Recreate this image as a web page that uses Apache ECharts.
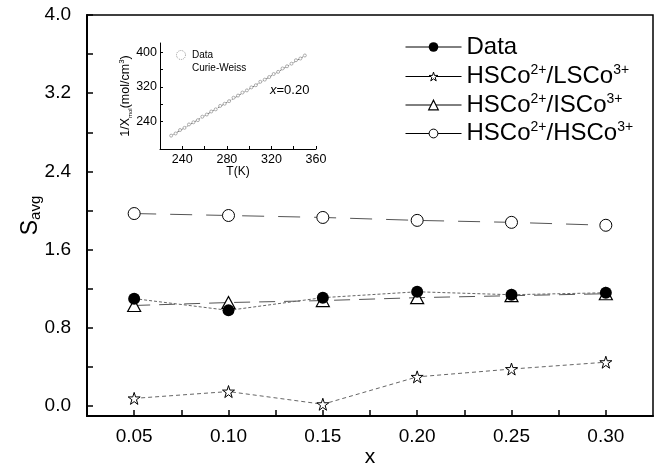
<!DOCTYPE html>
<html>
<head>
<meta charset="utf-8">
<script src="https://cdn.jsdelivr.net/npm/echarts@6/dist/echarts.min.js"></script>
<style>html,body{margin:0;padding:0;background:#fff}#c{width:657px;height:468px}</style>
</head>
<body>
<div id="c"></div>
<script>
// ---- data ----
const xValues = [0.05, 0.10, 0.15, 0.20, 0.25, 0.30];
const dataS   = [1.10, 0.98, 1.11, 1.17, 1.14, 1.16];
const hsLs    = [0.08, 0.15, 0.02, 0.30, 0.38, 0.45];
const hsIs    = [1.03, 1.06, 1.08, 1.11, 1.13, 1.15];
const hsHs    = [1.97, 1.95, 1.93, 1.90, 1.88, 1.85];
const seriesNames = ['Data', 'HSCo2+/LSCo3+', 'HSCo2+/ISCo3+', 'HSCo2+/HSCo3+'];
const yLabels = [0, 0.8, 1.6, 2.4, 3.2, 4.0];
const yTicks  = [0, 0.4, 0.8, 1.2, 1.6, 2.0, 2.4, 2.8, 3.2, 3.6, 4.0];
const xLabels = [0.05, 0.10, 0.15, 0.20, 0.25, 0.30];
const xTicks  = [0.05, 0.075, 0.10, 0.125, 0.15, 0.175, 0.20, 0.225, 0.25, 0.275, 0.30];
// inset
const insetT    = [230, 234, 238, 242, 246, 250, 254, 258, 262, 266, 270, 274, 278, 282, 286, 290, 294, 298, 302, 306, 310, 314, 318, 322, 326, 330, 334, 338, 342, 346, 350];
const insetInvChi = [207, 212, 220, 225, 233, 238, 243, 251, 256, 263, 268, 276, 281, 287, 295, 300, 307, 312, 319, 324, 332, 337, 343, 350, 355, 363, 368, 374, 382, 386, 393];
const cwT   = [229, 351];
const cwVal = [205, 394];
const insetYLabels = [240, 320, 400];
const insetYTicks  = [240, 280, 320, 360, 400];
const insetXLabels = [240, 280, 320, 360];
const insetXTicks  = [240, 260, 280, 300, 320, 340, 360];

const FONT = 'Liberation Sans, Arial, sans-serif';
const zip = (a, b) => a.map((v, i) => [v, b[i]]);
const starPath = 'path://M50,2 L61,36 L97,36 L68,57 L79,92 L50,71 L21,92 L32,57 L3,36 L39,36 Z';

const legendRich = {
  n: { fontSize: 24, fontFamily: FONT, color: '#000' },
  s: { fontSize: 14, fontFamily: FONT, color: '#000', verticalAlign: 'top', padding: [0, 0, 12, 0] }
};
function legendFmt(name) {
  if (name === 'Data') return '{n|Data}';
  const m = name.match(/^HSCo2\+\/(\w+)3\+$/);
  return '{n|HSCo}{s|2+}{n|/' + m[1] + '}{s|3+}';
}
const legendItemStyles = [
  { color: '#000', borderColor: '#000', borderWidth: 0 },
  { color: '#fff', borderColor: '#000', borderWidth: 1 },
  { color: '#fff', borderColor: '#000', borderWidth: 1.2 },
  { color: '#fff', borderColor: '#000', borderWidth: 1 }
];
const legendSizes = [12, 11, 12, 11];
const legendRowY = [44, 72.5, 101, 129.5];
const legends = seriesNames.map((nm, i) => ({
  data: [{ name: nm, itemStyle: legendItemStyles[i] }],
  left: 400,
  top: legendRowY[i] - 14,
  itemWidth: 56,
  itemHeight: legendSizes[i],
  formatter: legendFmt,
  itemStyle: legendItemStyles[i],
  textStyle: { rich: legendRich, fontFamily: FONT },
  lineStyle: { type: 'solid', color: '#000', width: 1, opacity: 1 },
  selectedMode: false
}));
legends.push({
  data: [
    { name: 'Data ', icon: 'circle', itemStyle: { color: '#fff', borderColor: '#999', borderType: 'dotted', borderWidth: 1 } },
    { name: 'Curie-Weiss', icon: 'none' }
  ],
  orient: 'vertical',
  left: 170, top: 45,
  itemWidth: 12, itemHeight: 9, itemGap: 3,
  textStyle: { fontSize: 10, fontFamily: FONT, color: '#000' },
  selectedMode: false
});

const chart = echarts.init(document.getElementById('c'), null, { renderer: 'canvas' });
chart.setOption({
  animation: false,
  backgroundColor: '#fff',
  legend: legends,
  grid: [
    { left: 87, right: 4, top: 15, bottom: 52, show: true, borderColor: '#000', borderWidth: 1.5, containLabel: false, outerBoundsMode: 'none' },
    { left: 160, top: 43, width: 156, height: 106, containLabel: false, outerBoundsMode: 'none' }
  ],
  xAxis: [
    {
      gridIndex: 0, type: 'value', min: 0.025, max: 0.325,
      name: 'x', nameLocation: 'middle', nameGap: 31, nameMoveOverlap: false,
      nameTextStyle: { fontSize: 21, fontFamily: FONT, color: '#000' },
      axisLine: { onZero: false, lineStyle: { color: '#000', width: 2 } },
      axisTick: { inside: true, length: 6, customValues: xTicks, lineStyle: { color: '#000', width: 1.5 } },
      axisLabel: { customValues: xLabels, formatter: v => v.toFixed(2), fontSize: 19, fontFamily: FONT, color: '#000', margin: 11 },
      splitLine: { show: false }
    },
    {
      gridIndex: 1, type: 'value', min: 220, max: 360,
      name: 'T(K)', nameLocation: 'middle', nameGap: 17, nameMoveOverlap: false,
      nameTextStyle: { fontSize: 12, fontFamily: FONT, color: '#000' },
      axisLine: { onZero: false, lineStyle: { color: '#000', width: 1 } },
      axisTick: { inside: true, length: 3, customValues: insetXTicks, lineStyle: { color: '#000', width: 1 } },
      axisLabel: { customValues: insetXLabels, fontSize: 12.5, fontFamily: FONT, color: '#000', margin: 4 },
      splitLine: { show: false }
    }
  ],
  yAxis: [
    {
      gridIndex: 0, type: 'value', min: -0.1, max: 4.0,
      name: '{s|S}{sub|avg}', nameLocation: 'middle', nameGap: 44, nameRotate: 90, nameMoveOverlap: false,
      nameTextStyle: { rich: {
        s: { fontSize: 23, fontFamily: FONT, color: '#000' },
        sub: { fontSize: 15, fontFamily: FONT, color: '#000', verticalAlign: 'bottom', padding: [10, 0, 0, 0] }
      } },
      axisLine: { onZero: false, lineStyle: { color: '#000', width: 2 } },
      axisTick: { inside: true, length: 6, customValues: yTicks, lineStyle: { color: '#000', width: 1.5 } },
      axisLabel: { customValues: yLabels, formatter: v => v.toFixed(1), fontSize: 19, fontFamily: FONT, color: '#000', margin: 16 },
      splitLine: { show: false }
    },
    {
      gridIndex: 1, type: 'value', min: 176, max: 422,
      name: '{a|1/X}{sub|mol}{a|(mol/cm}{sup|3}{a|)}', nameLocation: 'middle', nameGap: 27, nameRotate: 90, nameMoveOverlap: false,
      nameTextStyle: { rich: {
        a: { fontSize: 12.5, fontFamily: FONT, color: '#000' },
        sub: { fontSize: 6, fontFamily: FONT, color: '#000', verticalAlign: 'bottom', padding: [7, 0, 0, 0] },
        sup: { fontSize: 8, fontFamily: FONT, color: '#000', verticalAlign: 'top', padding: [0, 0, 7, 0] }
      } },
      axisLine: { onZero: false, lineStyle: { color: '#000', width: 1 } },
      axisTick: { inside: true, length: 3, customValues: insetYTicks, lineStyle: { color: '#000', width: 1 } },
      axisLabel: { customValues: insetYLabels, fontSize: 12.5, fontFamily: FONT, color: '#000', margin: 3 },
      splitLine: { show: false }
    }
  ],
  graphic: [{
    type: 'text', left: 270, top: 84,
    style: {
      text: '{i|x}{n|=0.20}',
      rich: {
        i: { fontSize: 13, fontFamily: FONT, fontStyle: 'italic', fill: '#000' },
        n: { fontSize: 13, fontFamily: FONT, fill: '#000' }
      }
    }
  }],
  series: [
    {
      name: 'HSCo2+/HSCo3+', type: 'line', xAxisIndex: 0, yAxisIndex: 0,
      data: zip(xValues, hsHs), symbol: 'circle', symbolSize: 12,
      itemStyle: { color: '#fff', borderColor: '#000', borderWidth: 1 },
      lineStyle: { color: '#555', width: 1, type: [22, 14] }, z: 3
    },
    {
      name: 'HSCo2+/ISCo3+', type: 'line', xAxisIndex: 0, yAxisIndex: 0,
      data: zip(xValues, hsIs), symbol: 'triangle', symbolSize: [13, 12],
      itemStyle: { color: '#fff', borderColor: '#000', borderWidth: 1.2 },
      lineStyle: { color: '#555', width: 1, type: [16, 9] }, z: 3
    },
    {
      name: 'Data', type: 'line', xAxisIndex: 0, yAxisIndex: 0,
      data: zip(xValues, dataS), symbol: 'circle', symbolSize: 12,
      itemStyle: { color: '#000', borderColor: '#000', borderWidth: 0 },
      lineStyle: { color: '#666', width: 1, type: [3, 2] }, z: 4
    },
    {
      name: 'HSCo2+/LSCo3+', type: 'line', xAxisIndex: 0, yAxisIndex: 0,
      data: zip(xValues, hsLs), symbol: starPath, symbolSize: 12,
      itemStyle: { color: '#fff', borderColor: '#000', borderWidth: 1 },
      lineStyle: { color: '#666', width: 1, type: [4, 3] }, z: 3
    },
    {
      name: 'Data ', type: 'line', xAxisIndex: 1, yAxisIndex: 1,
      data: zip(insetT, insetInvChi), symbol: 'circle', symbolSize: 3,
      itemStyle: { color: '#fff', borderColor: '#999', borderWidth: 0.8 },
      lineStyle: { width: 0, opacity: 0 }
    },
    {
      name: 'Curie-Weiss', type: 'line', xAxisIndex: 1, yAxisIndex: 1,
      data: zip(cwT, cwVal), symbol: 'none',
      lineStyle: { color: '#777', width: 1, type: [3, 1] }
    }
  ]
});
</script>
</body>
</html>
